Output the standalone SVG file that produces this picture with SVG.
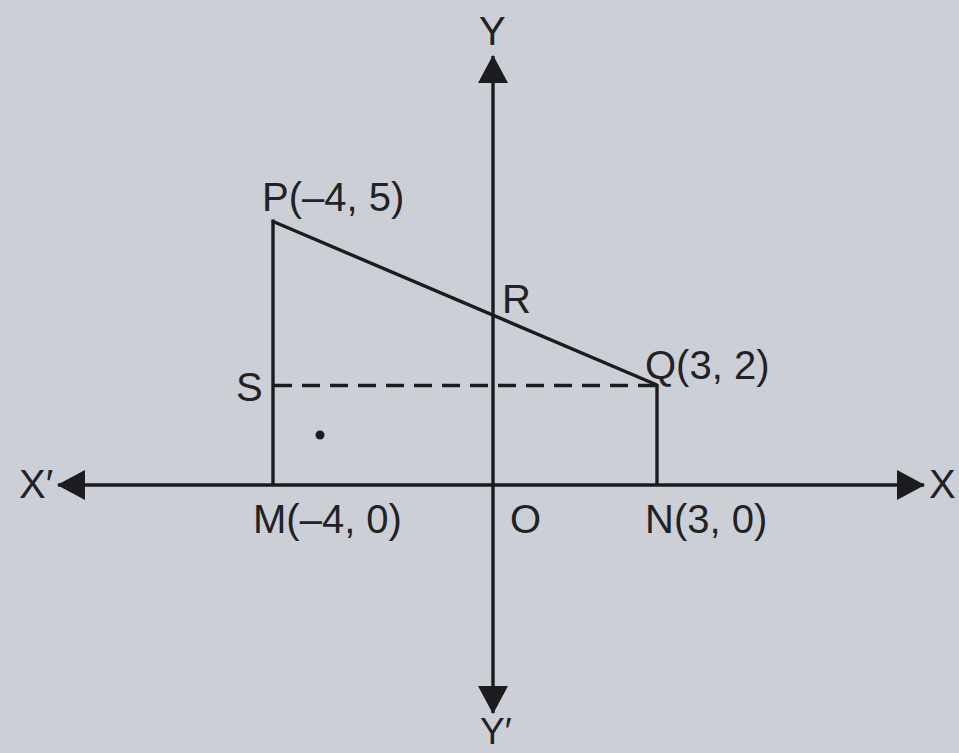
<svg xmlns="http://www.w3.org/2000/svg" width="959" height="753" viewBox="0 0 959 753">
<defs>
<style>
.bg{fill:#ccd0d6}
.ln{stroke:#1c1c1e;stroke-width:3.4;fill:none}
.dash{stroke:#1c1c1e;stroke-width:3.6;fill:none;stroke-dasharray:18 10}
.lbl{font-family:"Liberation Sans",Arial,sans-serif;font-size:40px;fill:#222226}
</style>
<marker id="arr" markerUnits="userSpaceOnUse" markerWidth="30" markerHeight="32" refX="27" refY="15" orient="auto-start-reverse" viewBox="0 0 30 30">
<path d="M0,0 L28,15 L0,30 z" fill="#1c1c1e"/>
</marker>
</defs>
<rect class="bg" x="0" y="0" width="959" height="753"/>
<g id="connectors">
<line id="x-axis" class="ln" x1="58" y1="485" x2="924" y2="485" marker-start="url(#arr)" marker-end="url(#arr)"/>
<line id="y-axis" class="ln" x1="493" y1="56" x2="493" y2="713" marker-start="url(#arr)" marker-end="url(#arr)"/>
<line id="PM" class="ln" x1="273" y1="219.5" x2="273" y2="485"/>
<line id="PQ" class="ln" x1="272" y1="221" x2="657" y2="385"/>
<line id="QN" class="ln" x1="657" y1="384" x2="657" y2="485"/>
<line id="SQ" class="dash" x1="274" y1="385.5" x2="657" y2="385.5"/>
</g>
<g id="node-Y"><text class="lbl" x="479" y="45">Y</text></g>
<g id="node-Yp"><text class="lbl" x="480" y="744" style="font-size:37px">Y′</text></g>
<g id="node-X"><text class="lbl" x="929" y="498">X</text></g>
<g id="node-Xp"><text class="lbl" x="19" y="498">X′</text></g>
<g id="node-P"><text class="lbl" x="262" y="211">P(–4, 5)</text></g>
<g id="node-Q"><text class="lbl" x="645" y="379">Q(3, 2)</text></g>
<g id="node-R"><text class="lbl" x="502" y="313">R</text></g>
<g id="node-S"><text class="lbl" x="236" y="401">S</text></g>
<g id="node-M"><text class="lbl" x="253" y="533">M(–4, 0)</text></g>
<g id="node-O"><text class="lbl" x="510" y="533">O</text></g>
<g id="node-N"><text class="lbl" x="645" y="533">N(3, 0)</text></g>
<g id="dot"><circle cx="320" cy="435" r="4.5" fill="#1c1c1e"/></g>
</svg>
